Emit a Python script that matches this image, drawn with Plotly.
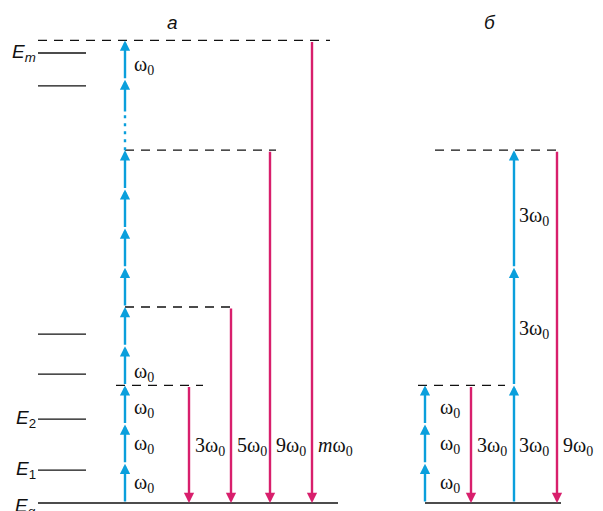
import plotly.graph_objects as go

# ---- data (energies in units of the photon energy ħω0) ----
m_level = 11.8                               # virtual level reached after m photons
atom_levels = [0.84, 2.14, 3.29, 4.31, 10.64, 11.48]   # real atomic levels (short lines)
level_subs = ["1", "2", None, None, None, "<i>m</i>"]

# panel а : photons ω0 absorbed step by step, harmonics emitted
a_steps_low = [1, 2, 3, 4, 5, 6, 7, 8, 9]     # arrowheads below the gap
a_steps_high = [10.8, 11.8]                   # arrowheads above the gap
a_gap = [9, 9.95]                             # dotted part of the ladder
a_harmonics = [3, 5, 9, 11.8]                 # virtual levels where harmonics start
a_harm_labels = ["3ω<sub>0</sub>", "5ω<sub>0</sub>", "9ω<sub>0</sub>", "<i>m</i>ω<sub>0</sub>"]
a_w0_label_levels = [0.5, 1.48, 2.4, 3.33, 11.15]

# panel б : cascade 3ω0 -> 9ω0
b_steps_w0 = [1, 2, 3]
b_steps_3w0 = [3, 6, 9]
b_harmonics = [3, 9]
b_w0_label_levels = [0.5, 1.48, 2.4]
b_3w0_label_levels = [4.42, 7.3]

# ---- styling ----
BLUE = "#0a9fdc"
RED = "#d81f6c"
PX = 39.2          # pixels per ω0 on the y axis
Y0 = 503           # pixel row of ground level
OFF = 8            # page body margin
W, H = 603 - OFF, 511 - OFF
def lv(pix):       # helper: pixel row -> level (only for axis range / titles)
    return (Y0 - pix) / PX

SERIF = "Liberation Serif"
SANS = "Liberation Sans"

fig = go.Figure()
shapes = []
ann = []

def hline(x0, x1, y, dash="solid", w=1.3, color="#111"):
    shapes.append(dict(type="line", xref="x", yref="y", x0=x0, x1=x1, y0=y, y1=y,
                       line=dict(color=color, width=w, dash=dash)))

def vline(x, y0, y1, color, w=2.4, dash="solid"):
    shapes.append(dict(type="line", xref="x", yref="y", x0=x, x1=x, y0=y0, y1=y1,
                       line=dict(color=color, width=w, dash=dash)))

def arrow(x, y_from, y_to, color, w=2.4):
    ann.append(dict(x=x, y=y_to, ax=x, ay=y_from, xref="x", yref="y", axref="x", ayref="y",
                    showarrow=True, arrowhead=2, arrowsize=0.85, arrowwidth=w,
                    arrowcolor=color, standoff=0, startstandoff=0, text=""))

def label(x, y, text, size=20, family=SERIF, anchor="left", color="#111"):
    ann.append(dict(x=x, y=y, xref="x", yref="y", text=text, showarrow=False,
                    xanchor=anchor, yanchor="middle",
                    font=dict(family=family, size=size, color=color)))

DASH = "9px,7px"

# ---------- panel а ----------
hline(38, 338, 0, w=1.5)
for L in atom_levels:
    hline(38, 86, L, w=1.3)
for L, sub in zip(atom_levels, level_subs):
    if sub:
        label(38, L, "<i>E</i><sub>%s</sub>" % sub, size=19, family=SANS, anchor="right")
label(38, -0.1, "<i>E</i><sub><i>g</i></sub>", size=19, family=SANS, anchor="right")

XA = 125
hline(38, 330, m_level, dash=DASH, w=1.3)
hline(XA, 276, 9, dash=DASH, w=1.3)
hline(XA, 236, 5, dash=DASH, w=1.3)
hline(116, 203, 3, dash=DASH, w=1.3)

prev = 0
for s in a_steps_low:
    arrow(XA, prev, s, BLUE)
    prev = s
vline(XA, a_gap[0], a_gap[1], BLUE, w=2.4, dash="3px,5px")
prev = a_gap[1]
for s in a_steps_high:
    arrow(XA, prev, s, BLUE)
    prev = s
for L in a_w0_label_levels:
    label(132, L, "ω<sub>0</sub>")

a_red_x = [189, 231, 270, 312]
for x, L, t in zip(a_red_x, a_harmonics, a_harm_labels):
    arrow(x, L, 0, RED)
    label(x + 4, 1.43, t)

# ---------- panel б ----------
hline(425, 561, 0, w=1.5)
hline(418, 505, 3, dash=DASH, w=1.3)
hline(435, 563, 9, dash=DASH, w=1.3)
prev = 0
for s in b_steps_w0:
    arrow(425, prev, s, BLUE)
    prev = s
prev = 0
for s in b_steps_3w0:
    arrow(514, prev, s, BLUE)
    prev = s
for L in b_w0_label_levels:
    label(438, L, "ω<sub>0</sub>")
b_red_x = [471, 557]
for x, L in zip(b_red_x, b_harmonics):
    arrow(x, L, 0, RED)
    label(x + 4, 1.43, "%dω<sub>0</sub>" % L)
label(517, 1.43, "3ω<sub>0</sub>")
for L in b_3w0_label_levels:
    label(517, L, "3ω<sub>0</sub>")

label(172, lv(22), "<i>а</i>", size=19, family=SANS, anchor="center")
label(490, lv(22), "<i>б</i>", size=19, family=SANS, anchor="center")

fig.update_layout(
    width=W, height=H,
    margin=dict(l=0, r=0, t=0, b=0),
    paper_bgcolor="white", plot_bgcolor="white",
    showlegend=False,
    shapes=shapes, annotations=ann,
    xaxis=dict(range=[OFF, 603], visible=False, fixedrange=True),
    yaxis=dict(range=[lv(511), lv(OFF)], visible=False, fixedrange=True),
)
fig.write_html("out.html")
